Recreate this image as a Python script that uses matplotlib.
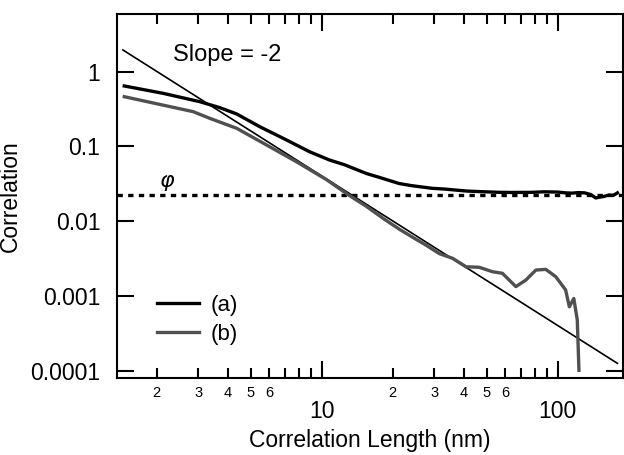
import matplotlib.pyplot as plt
from matplotlib.ticker import FixedLocator, NullFormatter, NullLocator

plt.rcParams["font.family"] = ["Liberation Sans", "DejaVu Sans"]
plt.rcParams["mathtext.fontset"] = "dejavusans"

# curve (a): black, thick
a_x = [1.46, 2.13, 3.05, 3.71, 4.37, 5.47, 7.11, 8.9, 10.8, 12.5, 15.5, 17.4,
       21.3, 24.0, 29.4, 33.1, 41.0, 46.0, 56.5, 63.5, 77.8, 87.5, 100, 108,
       115, 122, 130, 138, 145, 150, 157, 165, 172, 179]
a_y = [0.644, 0.514, 0.397, 0.33, 0.272, 0.184, 0.122, 0.085, 0.066, 0.057,
       0.0435, 0.039, 0.032, 0.030, 0.0276, 0.027, 0.0254, 0.0250, 0.0244,
       0.0243, 0.0244, 0.0248, 0.0246, 0.0240, 0.0238, 0.0242, 0.0240, 0.0228,
       0.0205, 0.0210, 0.0215, 0.0225, 0.0222, 0.0240]

# curve (b): grey
b_x = [1.46, 2.86, 3.36, 4.37, 5.84, 7.82, 10.5, 13.0, 15.4, 18.5, 21.4, 25.0,
       27.7, 31.5, 35.9, 40.9, 46.5, 52.9, 58.3, 66.5, 73.3, 80.8, 89.0, 98.1,
       108, 112, 117, 121, 123]
b_y = [0.463, 0.292, 0.238, 0.175, 0.105, 0.0626, 0.0360, 0.0225, 0.0160,
       0.0106, 0.0078, 0.0058, 0.0048, 0.00370, 0.0032, 0.00247, 0.00243,
       0.00212, 0.00202, 0.00134, 0.00164, 0.00223, 0.00228, 0.00182, 0.00121,
       0.00072, 0.00093, 0.00048, 0.000102]

# slope = -2 guide line and phi level
slope_x = [1.44, 179]
slope_y = [1.953, 1.264e-4]
phi_level = 0.0225

x_major = [10, 100]
x_minor = [2, 3, 4, 5, 6, 7, 8, 9, 20, 30, 40, 50, 60, 70, 80, 90]
x_minor_labels = ["2", "3", "4", "5", "6", "", "", "", "2", "3", "4", "5", "6", "", "", ""]
y_major = [1e-4, 1e-3, 1e-2, 1e-1, 1]
y_labels = ["0.0001", "0.001", "0.01", "0.1", "1"]

fig = plt.figure(figsize=(6.24, 4.55), dpi=100)
ax = fig.add_axes([117 / 624, 1 - 378 / 455, 506 / 624, 364 / 455])

ax.plot(slope_x, slope_y, color="black", lw=1.2)
ax.axhline(phi_level, color="black", lw=2.4, ls=(0, (1.6, 1.6)))
ax.plot(b_x, b_y, color="#505050", lw=2.4, label="(b)")
ax.plot(a_x, a_y, color="black", lw=2.4, label="(a)")

ax.set_xscale("log")
ax.set_yscale("log")
ax.set_xlim(1.36, 189)
ax.set_ylim(8.05e-5, 5.9)

ax.xaxis.set_major_locator(FixedLocator(x_major))
ax.set_xticklabels(["10", "100"])
ax.xaxis.set_minor_locator(FixedLocator(x_minor))
ax.set_xticklabels(x_minor_labels, minor=True)
ax.yaxis.set_major_locator(FixedLocator(y_major))
ax.set_yticklabels(y_labels)
ax.yaxis.set_minor_locator(NullLocator())
ax.yaxis.set_minor_formatter(NullFormatter())

ax.tick_params(which="major", direction="in", top=True, right=True,
               length=12.5, width=1.5, labelsize=16.5)
ax.tick_params(axis="x", which="major", pad=16)
ax.tick_params(axis="y", which="major", pad=12)
ax.tick_params(axis="x", which="minor", direction="in", top=True,
               length=7, width=1.5, labelsize=10.5, pad=6)
for s in ax.spines.values():
    s.set_linewidth(1.5)

ax.set_xlabel("Correlation Length (nm)", fontsize=16.5, labelpad=4)
ax.set_ylabel("Correlation", fontsize=16.5, labelpad=6)

ax.text(2.35, 1.67, "Slope = -2", fontsize=17, va="center", ha="left")
ax.text(2.22, 0.0335, r"$\varphi$", fontsize=16, va="center", ha="center")

handles, labels = ax.get_legend_handles_labels()
ax.legend(handles[::-1], labels[::-1], loc="lower left", frameon=False,
          fontsize=16, handlelength=1.9, handletextpad=0.5, labelspacing=0.35,
          bbox_to_anchor=(0.04, 0.037))

fig.savefig("out.png", dpi=100)
